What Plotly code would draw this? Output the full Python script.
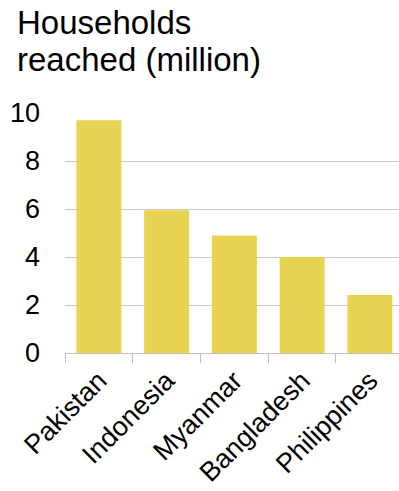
import plotly.graph_objects as go

countries = ["Pakistan", "Indonesia", "Myanmar", "Bangladesh", "Philippines"]
households = [9.7, 5.95, 4.9, 4.0, 2.42]
y_ticks = [0, 2, 4, 6, 8, 10]
title_lines = ["Households", "reached (million)"]

FONT = "Arial, 'Liberation Sans', sans-serif"

fig = go.Figure(
    go.Bar(
        x=countries,
        y=households,
        marker=dict(color="#E8D452", line=dict(width=0)),
        hoverinfo="skip",
    )
)

fig.update_layout(
    width=399,
    height=491,
    margin=dict(l=65, r=0, t=113, b=137.5),
    paper_bgcolor="white",
    plot_bgcolor="white",
    bargap=0.336,
    showlegend=False,
    font=dict(family=FONT, color="#000000"),
)

fig.update_yaxes(
    range=[0, 10],
    tickvals=y_ticks,
    ticktext=[str(v) for v in y_ticks],
    showgrid=True,
    gridcolor="#c8c8c8",
    gridwidth=1,
    zeroline=False,
    showline=False,
    ticks="",
    ticklabelstandoff=24,
    automargin=False,
    tickfont=dict(size=27, family=FONT, color="#000"),
)

fig.update_xaxes(
    range=[-0.5, 4.43],
    showline=True,
    linecolor="#c0c0c0",
    linewidth=1,
    ticks="outside",
    tickson="boundaries",
    ticklen=9,
    tickcolor="#c0c0c0",
    tickwidth=1,
    tickangle=-45,
    automargin=False,
    tickfont=dict(size=27, family=FONT, color="#000"),
)

for i, line in enumerate(title_lines):
    fig.add_annotation(
        text=line,
        xref="paper",
        yref="paper",
        x=(15 - 65) / 334,
        xanchor="left",
        y=1 + (113 - (2 + 37 * i)) / 241,
        yanchor="top",
        showarrow=False,
        font=dict(size=33, family=FONT, color="#000"),
    )

fig.write_html("out.html")
